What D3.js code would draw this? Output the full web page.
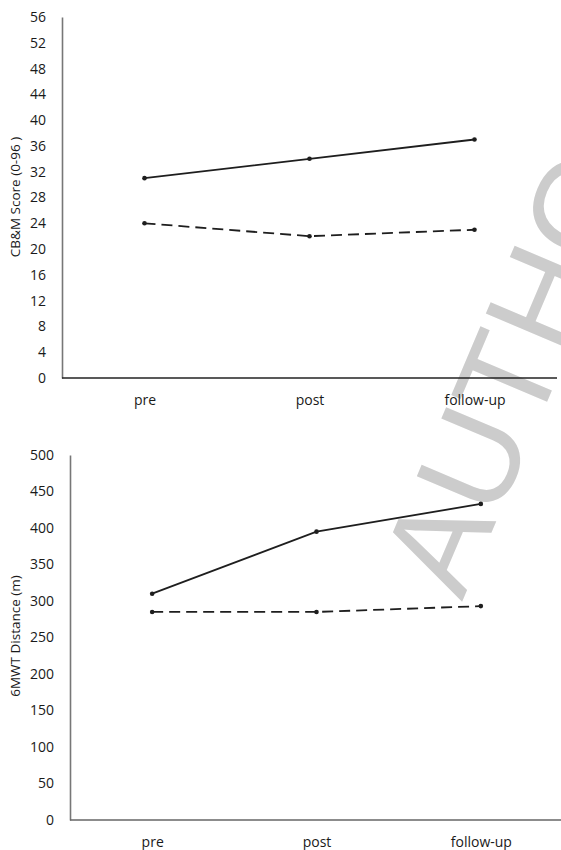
<!DOCTYPE html>
<html lang="en">
<head>
    <meta charset="UTF-8">
    <title>CB&M and 6MWT</title>
    <script src="https://cdn.jsdelivr.net/npm/d3@7"></script>
    <style>
        body { margin: 0; background: #fff; }
        text { font-family: "Open Sans", sans-serif; fill: #1a1a1a; }
    </style>
</head>
<body>
<svg id="fig" width="561" height="850"></svg>

<script>
    // data
    const categories = ["pre", "post", "follow-up"];
    const cbmSolid = [31, 34, 37];
    const cbmDashed = [24, 22, 23];
    const mwtSolid = [310, 395, 433];
    const mwtDashed = [285, 285, 293];
    const cbmTicks = d3.range(0, 57, 4);
    const mwtTicks = d3.range(0, 501, 50);

    const svg = d3.select("#fig");

    // watermark behind everything
    svg.append("text")
        .attr("transform", "translate(462,602) rotate(-67)")
        .style("font-family", "'Liberation Sans', sans-serif")
        .style("font-size", "132px")
        .style("fill", "#cccccc")
        .text("AUTHOR");

    function drawPanel(opt) {
        let g = svg.append("g");

        let x = d3.scalePoint().domain(categories)
            .range([opt.left, opt.right]).padding(0.5);
        let y = d3.scaleLinear().domain([0, opt.max])
            .range([opt.bottom, opt.top]);

        // y axis
        let ya = g.append("g")
            .attr("transform", "translate(" + opt.left + ",0)")
            .call(d3.axisLeft(y).tickValues(opt.ticks).tickSize(0).tickPadding(16));
        ya.select(".domain").attr("stroke", "#777").attr("stroke-width", 1.6);
        ya.selectAll("text").style("font-size", "14px").attr("fill", "#1a1a1a");

        // x axis
        let xa = g.append("g")
            .attr("transform", "translate(0," + opt.bottom + ")")
            .call(d3.axisBottom(x).tickSize(0).tickPadding(17));
        xa.select(".domain").attr("d", "M" + opt.left + ",0H" + opt.right)
            .attr("stroke", opt.xColor).attr("stroke-width", 1.4);
        xa.selectAll("text").style("font-size", "14px").attr("fill", "#1a1a1a");

        // axis title
        g.append("text")
            .attr("transform", "translate(20," + opt.titleY + ") rotate(-90)")
            .attr("text-anchor", "middle")
            .style("font-size", "13.5px")
            .text(opt.title);

        let line = d3.line()
            .x((d, i) => x(categories[i]))
            .y(d => y(d));

        [[opt.solid, null], [opt.dashed, "11,6"]].forEach(([vals, dash]) => {
            g.append("path")
                .datum(vals)
                .attr("d", line)
                .attr("fill", "none")
                .attr("stroke", "#1e1e1e")
                .attr("stroke-width", 1.8)
                .attr("stroke-dasharray", dash);
            g.selectAll(null)
                .data(vals)
                .enter()
                .append("circle")
                .attr("cx", (d, i) => x(categories[i]))
                .attr("cy", d => y(d))
                .attr("r", 2.3)
                .attr("fill", "#1e1e1e");
        });
    }

    drawPanel({
        left: 62, right: 557, top: 17, bottom: 378, max: 56, ticks: cbmTicks,
        solid: cbmSolid, dashed: cbmDashed, xColor: "#222",
        title: "CB&M Score (0-96 )", titleY: 197
    });

    drawPanel({
        left: 70, right: 563, top: 455, bottom: 820, max: 500, ticks: mwtTicks,
        solid: mwtSolid, dashed: mwtDashed, xColor: "#666",
        title: "6MWT Distance (m)", titleY: 636
    });
</script>
</body>
</html>
